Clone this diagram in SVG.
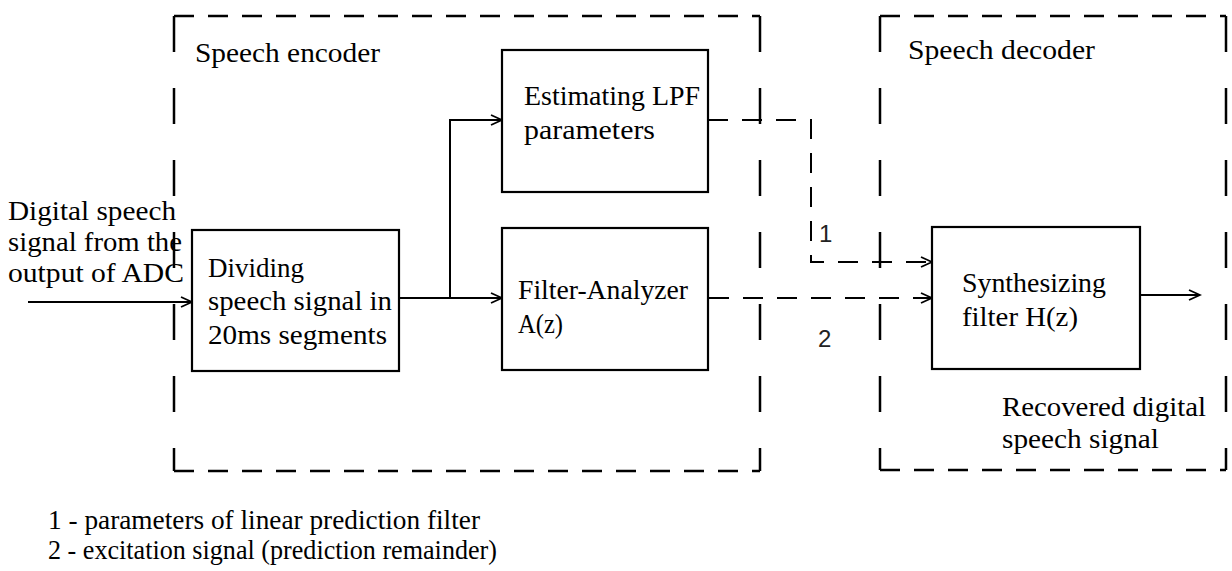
<svg xmlns="http://www.w3.org/2000/svg" width="1232" height="571" viewBox="0 0 1232 571">
  <style>
    .t { font-family: "Liberation Serif", "Times New Roman", serif; font-size: 28px; fill: #000; }
    .n { font-family: "Liberation Sans", Arial, sans-serif; font-size: 24px; fill: #222; }
    .box { fill: #fff; stroke: #000; stroke-width: 2.2; }
    .wire { fill: none; stroke: #000; stroke-width: 2; }
    .dwire { fill: none; stroke: #000; stroke-width: 2; stroke-dasharray: 20 14; }
    .fh { stroke: #000; stroke-width: 2.5; stroke-dasharray: 20 14; fill: none; }
    .fv { stroke: #000; stroke-width: 2.5; stroke-dasharray: 36 36; fill: none; }
  </style>
  <defs>
    <marker id="arrow" markerWidth="14" markerHeight="12" refX="12" refY="6" orient="auto" markerUnits="userSpaceOnUse">
      <path d="M1,1 L12,6 L1,11" fill="none" stroke="#000" stroke-width="1.8"/>
    </marker>
  </defs>

  <!-- dashed frames -->
  <g id="encoder-frame">
    <line class="fh" x1="174" y1="16" x2="760" y2="16"/>
    <line class="fh" x1="174" y1="471" x2="760" y2="471"/>
    <line class="fv" x1="174" y1="16" x2="174" y2="471"/>
    <line class="fv" x1="760" y1="16" x2="760" y2="471"/>
    <text class="t" x="195" y="62" textLength="185" lengthAdjust="spacingAndGlyphs">Speech encoder</text>
  </g>
  <g id="decoder-frame">
    <line class="fh" x1="880" y1="16" x2="1226" y2="16"/>
    <line class="fh" x1="880" y1="470" x2="1226" y2="470"/>
    <line class="fv" x1="880" y1="16" x2="880" y2="470"/>
    <line class="fv" x1="1226" y1="16" x2="1226" y2="470"/>
    <text class="t" x="908" y="59" textLength="187" lengthAdjust="spacingAndGlyphs">Speech decoder</text>
  </g>

  <!-- connectors -->
  <g id="connectors">
    <line class="wire" x1="28" y1="302" x2="192" y2="302" marker-end="url(#arrow)"/>
    <line class="wire" x1="399" y1="298" x2="502" y2="298" marker-end="url(#arrow)"/>
    <polyline class="wire" points="450,298 450,120 502,120" marker-end="url(#arrow)"/>
    <polyline class="dwire" points="708,120 811,120 811,262 932,262" marker-end="url(#arrow)"/>
    <line class="dwire" x1="709" y1="298" x2="932" y2="298" marker-end="url(#arrow)"/>
    <line class="wire" x1="1140" y1="295" x2="1200" y2="295" marker-end="url(#arrow)"/>
    <text class="n" x="819" y="242">1</text>
    <text class="n" x="818" y="347">2</text>
  </g>

  <!-- input label -->
  <g id="input-label">
    <text class="t" x="8" y="220" textLength="168" lengthAdjust="spacingAndGlyphs">Digital speech</text>
    <text class="t" x="8" y="251" textLength="174" lengthAdjust="spacingAndGlyphs">signal from the</text>
    <text class="t" x="8" y="282" textLength="176" lengthAdjust="spacingAndGlyphs">output of ADC</text>
  </g>

  <g id="divider">
    <rect class="box" x="192" y="230" width="207" height="141"/>
    <text class="t" x="208" y="277" textLength="96" lengthAdjust="spacingAndGlyphs">Dividing</text>
    <text class="t" x="208" y="310" textLength="184" lengthAdjust="spacingAndGlyphs">speech signal in</text>
    <text class="t" x="208" y="344" textLength="179" lengthAdjust="spacingAndGlyphs">20ms segments</text>
  </g>

  <g id="lpf-estimator">
    <rect class="box" x="502" y="50" width="206" height="142"/>
    <text class="t" x="524" y="105" textLength="176" lengthAdjust="spacingAndGlyphs">Estimating LPF</text>
    <text class="t" x="524" y="139" textLength="131" lengthAdjust="spacingAndGlyphs">parameters</text>
  </g>

  <g id="analyzer">
    <rect class="box" x="502" y="228" width="206" height="142"/>
    <text class="t" x="518" y="299" textLength="170" lengthAdjust="spacingAndGlyphs">Filter-Analyzer</text>
    <text class="t" x="518" y="333" textLength="45" lengthAdjust="spacingAndGlyphs">A(z)</text>
  </g>

  <g id="synthesizer">
    <rect class="box" x="932" y="227" width="208" height="142"/>
    <text class="t" x="962" y="292" textLength="144" lengthAdjust="spacingAndGlyphs">Synthesizing</text>
    <text class="t" x="962" y="326" textLength="116" lengthAdjust="spacingAndGlyphs">filter H(z)</text>
  </g>

  <g id="output-label">
    <text class="t" x="1002" y="416" textLength="204" lengthAdjust="spacingAndGlyphs">Recovered digital</text>
    <text class="t" x="1002" y="448" textLength="157" lengthAdjust="spacingAndGlyphs">speech signal</text>
  </g>

  <g id="legend">
    <text class="t" x="48" y="529" textLength="432" lengthAdjust="spacingAndGlyphs">1 - parameters of linear prediction filter</text>
    <text class="t" x="48" y="559" textLength="449" lengthAdjust="spacingAndGlyphs">2 - excitation signal (prediction remainder)</text>
  </g>
</svg>
